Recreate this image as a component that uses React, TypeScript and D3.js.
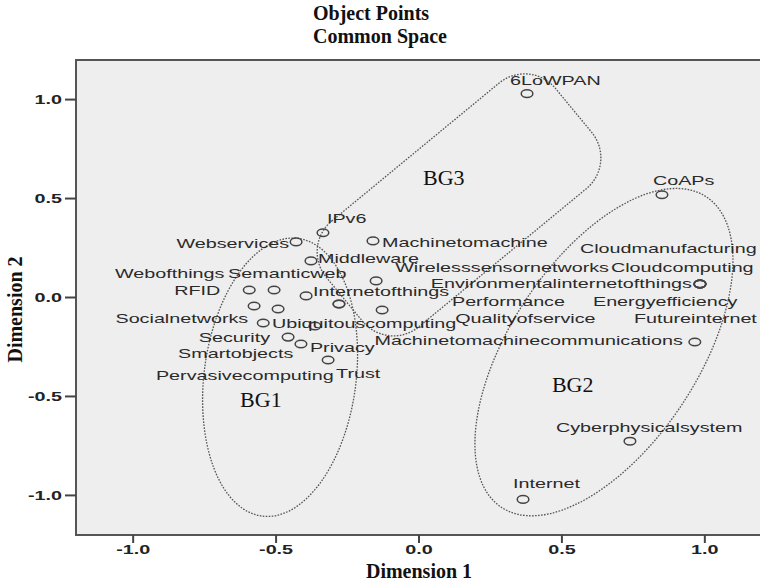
import React from "react";
import * as d3 from "d3";

// ---- data ----
const terms = [
  "6LoWPAN", "CoAPs", "IPv6", "Webservices", "Machinetomachine", "Middleware",
  "Wirelesssensornetworks", "RFID", "Semanticweb", "Internetofthings",
  "Ubiquitouscomputing", "Performance", "Qualityofservice", "Webofthings",
  "Smartobjects", "Socialnetworks", "Pervasivecomputing", "Security", "Privacy",
  "Trust", "Environmentalinternetofthings", "Cloudmanufacturing", "Cloudcomputing",
  "Energyefficiency", "Futureinternet", "Machinetomachinecommunications",
  "Cyberphysicalsystem", "Internet",
];
const dim1 = [
  0.378, 0.850, -0.336, -0.430, -0.161, -0.378,
  -0.150, -0.594, -0.507, -0.395,
  -0.280, -0.280, -0.129, -0.577,
  -0.493, -0.545, -0.364, -0.458, -0.413,
  -0.318, 0.983, 0.983, 0.983,
  0.983, 0.983, 0.965,
  0.738, 0.364,
];
const dim2 = [
  1.030, 0.519, 0.327, 0.281, 0.286, 0.185,
  0.084, 0.038, 0.038, 0.008,
  -0.033, -0.033, -0.063, -0.043,
  -0.058, -0.129, -0.144, -0.200, -0.235,
  -0.316, 0.068, 0.068, 0.068,
  0.068, 0.068, -0.225,
  -0.726, -1.020,
];
const tickValues = [-1.0, -0.5, 0.0, 0.5, 1.0];
const groupNames = ["BG1", "BG2", "BG3"];
const groupCenters1 = [-0.486, 0.647, 0.140];
const groupCenters2 = [-0.403, -0.276, 0.468];

// ---- layout (pixel offsets / styles, not data) ----
const labelLayout: [number, number, string][] = [
  [-17, -9, "start"], [-9, -10, "start"], [4, -10, "start"], [-7, 6, "end"],
  [9, 6, "start"], [7, 2, "start"], [19, -9, "start"], [-29, 5, "end"],
  [-46, -12, "start"], [7, 0, "start"], [-67, 24, "start"], [113, 2, "start"],
  [73, 13, "start"], [-139, -28, "start"], [-100, 49, "start"], [-15, 0, "end"],
  [-159, 54, "start"], [-18, 5, "end"], [9, 8, "start"], [8, 18, "start"],
  [-8, 4, "end"], [-120, -31, "start"], [-89, -12, "start"], [-107, 22, "start"],
  [-66, 39, "start"], [-12, 3, "end"], [-74, -9, "start"], [-10, -11, "start"],
];
const groupLabelOffsets: [number, number][] = [[-40, 30], [-52, 40], [-36, -20]];

const W = 760, H = 582;
const L = 76, R = 762, T = 60, B = 535;
const STRETCH = 1.58;
const sans = "'Liberation Sans', Arial, sans-serif";
const serif = "'Liberation Serif', 'Times New Roman', serif";
const fmt = (v: number) => d3.format(".1f")(v).replace("\u2212", "-");

export default function App() {
  const x = d3.scaleLinear().domain([-1.2, 1.2]).range([L, R]);
  const y = d3.scaleLinear().domain([-1.2, 1.2]).range([B, T]);

  const points = terms.map((t, i) => ({ t, px: x(dim1[i]), py: y(dim2[i]) }));

  return (
    <svg width={W} height={H} style={{ position: "absolute", left: 0, top: 0, background: "#fff" }}>
      {/* title */}
      <text x={313} y={20} fontFamily={serif} fontWeight="bold" fontSize={20} fill="#111">Object Points</text>
      <text x={313} y={43} fontFamily={serif} fontWeight="bold" fontSize={20} fill="#111">Common Space</text>

      {/* plot area */}
      <rect x={L} y={T} width={R - L} height={B - T} fill="#eeeeee" stroke="#555" strokeWidth={2} />

      {/* y ticks */}
      {tickValues.map((v) => (
        <g key={"y" + v}>
          <line x1={L - 11} x2={L} y1={y(v)} y2={y(v)} stroke="#444" strokeWidth={2} />
          <g transform={`translate(${L - 14},${y(v)}) scale(${STRETCH},1)`}>
            <text textAnchor="end" dy="0.36em" fontFamily={sans} fontWeight="bold" fontSize={12.5} fill="#222">
              {fmt(v)}
            </text>
          </g>
        </g>
      ))}
      {/* x ticks */}
      {tickValues.map((v) => (
        <g key={"x" + v}>
          <line x1={x(v)} x2={x(v)} y1={B} y2={B + 8} stroke="#444" strokeWidth={2} />
          <g transform={`translate(${x(v)},${B + 19}) scale(${STRETCH},1)`}>
            <text textAnchor="middle" fontFamily={sans} fontWeight="bold" fontSize={12.5} fill="#222">
              {fmt(v)}
            </text>
          </g>
        </g>
      ))}

      {/* axis titles */}
      <text x={x(0)} y={578} textAnchor="middle" fontFamily={serif} fontWeight="bold" fontSize={20} fill="#111">Dimension 1</text>
      <text transform={`translate(22,${y(0) + 12}) rotate(-90)`} textAnchor="middle" fontFamily={serif} fontWeight="bold" fontSize={20} fill="#111">Dimension 2</text>

      {/* group outlines */}
      <g fill="none" stroke="#555" strokeWidth={1.3} strokeDasharray="1.6,1.4">
        <ellipse cx={x(groupCenters1[0])} cy={y(groupCenters2[0])} rx={76} ry={140}
          transform={`rotate(7.4,${x(groupCenters1[0])},${y(groupCenters2[0])})`} />
        <ellipse cx={x(groupCenters1[1])} cy={y(groupCenters2[1])} rx={94} ry={186}
          transform={`rotate(33.4,${x(groupCenters1[1])},${y(groupCenters2[1])})`} />
        <rect x={-148.5} y={-68.5} width={297} height={137} rx={40} ry={40}
          transform={`translate(${x(groupCenters1[2])},${y(groupCenters2[2])}) rotate(-39.5)`} />
      </g>
      {groupNames.map((g, i) => (
        <text key={g} x={x(groupCenters1[i]) + groupLabelOffsets[i][0]} y={y(groupCenters2[i]) + groupLabelOffsets[i][1]}
          fontFamily={serif} fontSize={22} fill="#111">{g}</text>
      ))}

      {/* points */}
      {points.map((p, i) => (
        <ellipse key={"c" + i} cx={p.px} cy={p.py} rx={5.8} ry={3.8} fill="none" stroke="#444" strokeWidth={1.5} />
      ))}
      {/* labels */}
      {points.map((p, i) => (
        <g key={"l" + i} transform={`translate(${p.px + labelLayout[i][0]},${p.py + labelLayout[i][1]}) scale(${STRETCH},1)`}>
          <text textAnchor={labelLayout[i][2]} fontFamily={sans} fontSize={12.5} fill="#2a2a2a">{p.t}</text>
        </g>
      ))}
    </svg>
  );
}
